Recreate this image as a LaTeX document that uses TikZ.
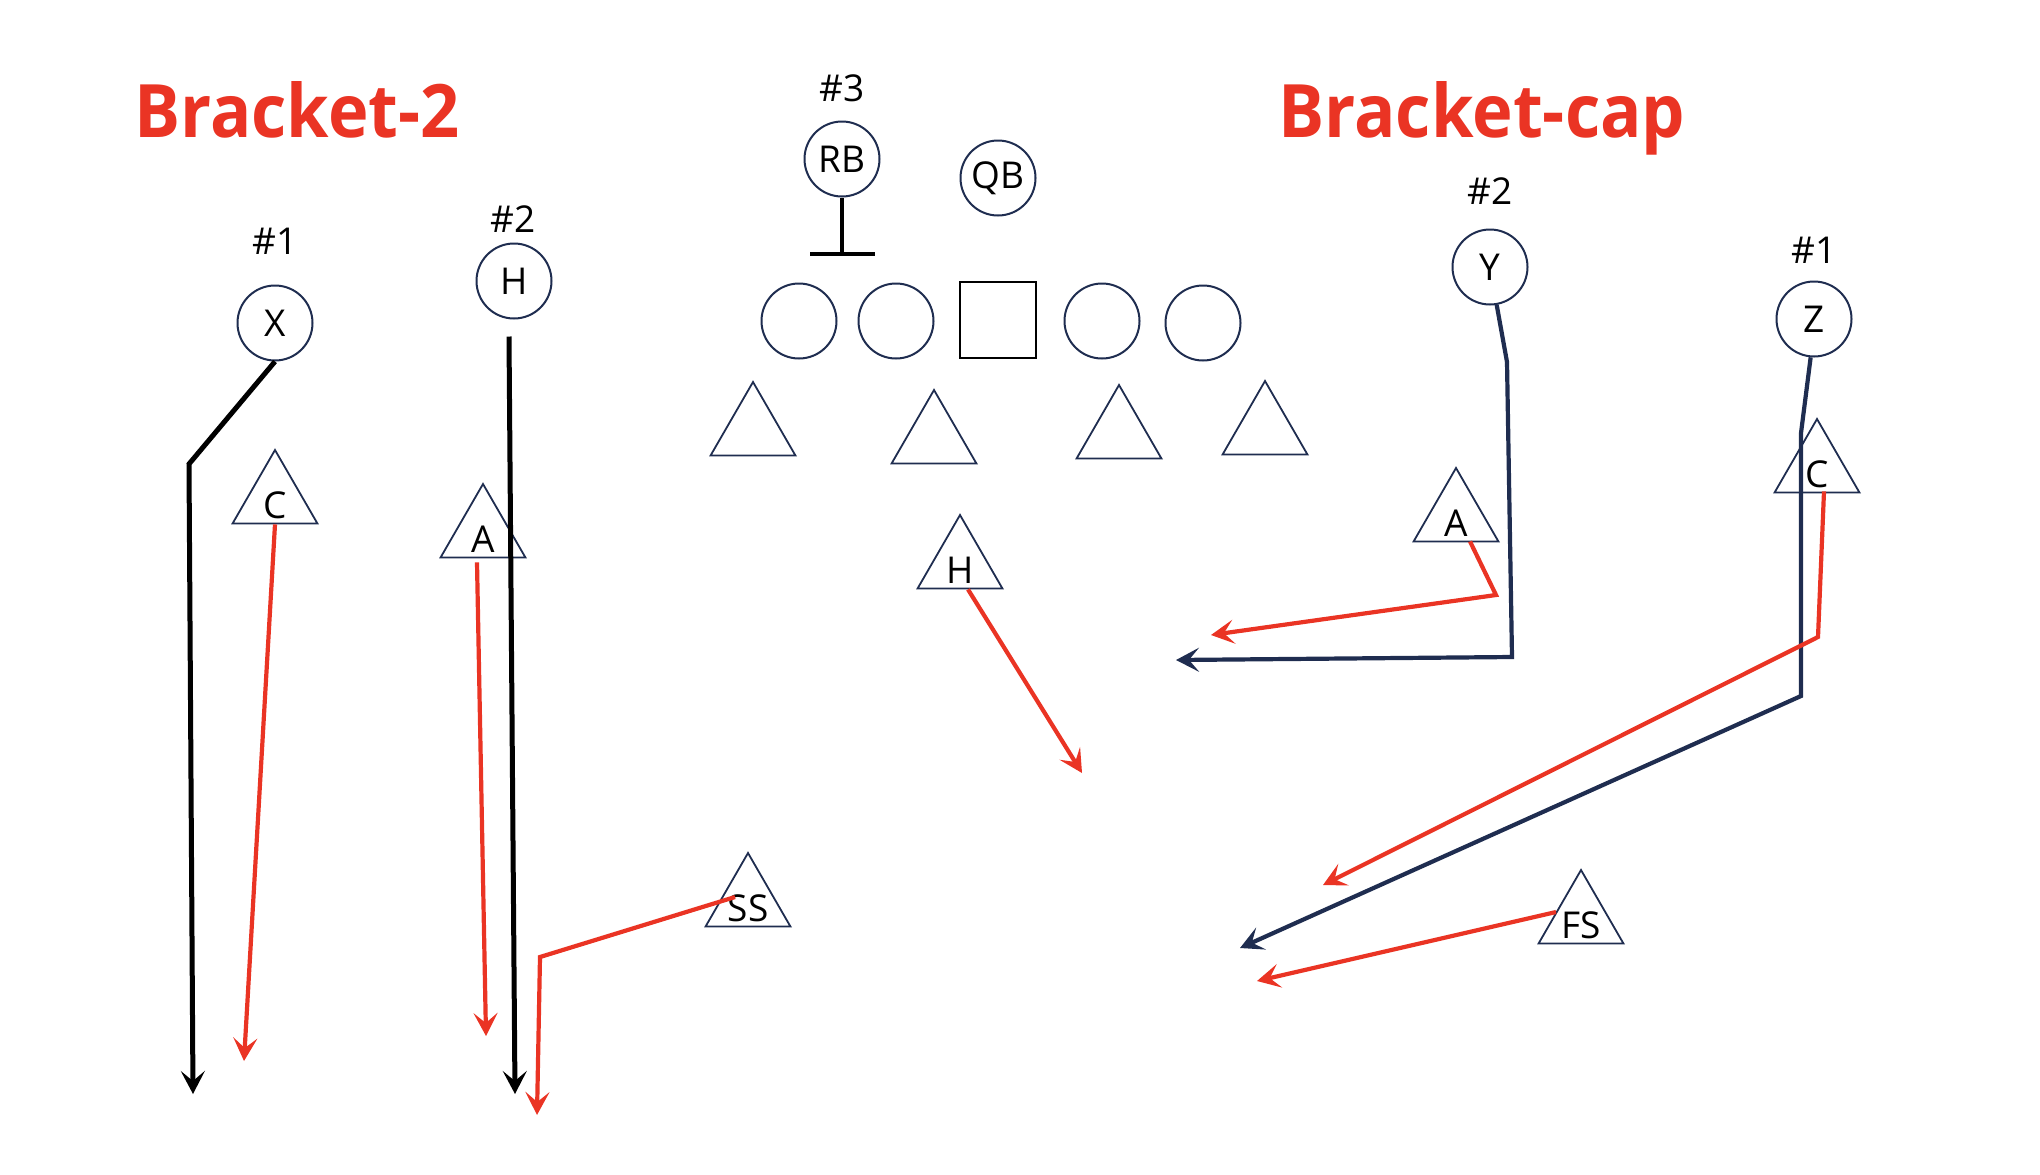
\documentclass[tikz,border=0pt]{standalone}
\usepackage{fontspec}
\setmainfont{Open Sans}
\usetikzlibrary{arrows.meta,shapes.geometric,calc}
\definecolor{navy}{HTML}{1F2D50}
\definecolor{playred}{HTML}{EA3424}
\begin{document}
\begin{tikzpicture}[x=0.5pt,y=-0.5pt,
  lbl/.style={font=\fontsize{18.5}{22}\selectfont, inner sep=0pt},
  player/.style={circle, draw=navy, line width=1pt, minimum size=37.5pt, inner sep=0pt, font=\fontsize{18.5}{22}\selectfont},
  center/.style={rectangle, draw=black, line width=1pt, minimum size=38pt, inner sep=0pt},
  defender/.style={regular polygon, regular polygon sides=3, draw=navy, line width=0.9pt, minimum size=49pt, inner sep=0pt},
  dlabel/.style={label={[lbl, yshift=-3pt]center:#1}},
  title/.style={anchor=base west, text=playred, inner sep=0pt},
  tip/.style={-{Stealth[length=11.5pt,width=12pt,inset=5pt]}},
  blackroute/.style={tip, draw=black, line width=2.5pt},
  redroute/.style={tip, draw=playred, line width=2.1pt},
  navyroute/.style={tip, draw=navy, line width=2.1pt},
]
\useasboundingbox (0,0) rectangle (2040,1174);

% titles
\node[title] (t1) at (134,137) {\resizebox{162.5pt}{28pt}{\bfseries Bracket-2}};
\node[title] (t2) at (1278,137) {\resizebox{203.5pt}{28pt}{\bfseries Bracket-cap}};

% number labels
\node[lbl] (n3) at (842,88) {\#3};
\node[lbl] (n1l) at (275,241) {\#1};
\node[lbl] (n2l) at (513,219) {\#2};
\node[lbl] (n2r) at (1490,191) {\#2};
\node[lbl] (n1r) at (1814,250) {\#1};

% offense
\node[player] (RB) at (842,159) {RB};
\node[player] (QB) at (998,178) {QB};
\node[player] (LT) at (799,321) {};
\node[player] (LG) at (896,321) {};
\node[center] (CC) at (998,320) {};
\node[player] (RG) at (1102,321) {};
\node[player] (RT) at (1203,323) {};
\node[player] (X) at (275,323) {X};
\node[player] (HL) at (514,281) {H};
\node[player] (Y) at (1490,267) {Y};
\node[player] (Z) at (1814,319) {Z};

% defense
\node[defender] (D1) at (753,431) {};
\node[defender] (D2) at (934,439) {};
\node[defender] (D3) at (1119,434) {};
\node[defender] (D4) at (1265,430) {};
\node[defender, dlabel=C] (CL) at (275,499) {};
\node[defender, dlabel=A] (AL) at (483,533) {};
\node[defender, dlabel=H] (HM) at (960,564) {};
\node[defender, dlabel=SS] (SS) at (748,902) {};
\node[defender, dlabel=A] (AR) at (1456,517) {};
\node[defender, dlabel=C] (CR) at (1817,468) {};
\node[defender, dlabel=FS] (FS) at (1581,919) {};

% RB block
\coordinate (rbend) at (842,254);
\draw[line width=2pt] (RB.south) -- (rbend);
\draw[line width=2.2pt] ($(rbend)+(-32,0)$) -- ($(rbend)+(33,0)$);

% free route ends
\coordinate (xe) at (193,1094);
\coordinate (he) at (515,1094);
\coordinate (cle) at (244,1061);
\coordinate (ale) at (486,1036);
\coordinate (sse) at (537,1115);
\coordinate (hme) at (1082,773);
\coordinate (ye) at (1176,660);
\coordinate (are) at (1211,635);
\coordinate (ze) at (1240,948);
\coordinate (cre) at (1323,885);
\coordinate (fse) at (1257,981);

% left routes
\draw[blackroute] (X.south) -- (189,464) -- (xe);
\draw[blackroute] ($(HL.south)+(-5,17)$) -- (he);
\draw[redroute] (CL.south) -- (cle);
\draw[redroute] ($(AL.south)+(-6,4)$) -- (ale);
\draw[redroute] ($(SS.center)+(-13,-5)$) -- (540,957) -- (sse);

% middle
\draw[redroute] ($(HM.south)+(8,0)$) -- (hme);

% right routes
\draw[navyroute] (Y.-80) -- (1507,362) -- (1512,657) -- (ye);
\draw[redroute] ($(AR.south)+(14,-1)$) -- (1496,595) -- (are);
\draw[navyroute] (Z.-95) -- (1801,433) -- (1801,696) -- (ze);
\draw[redroute] ($(CR.south)+(7,-2)$) -- (1818,637) -- (cre);
\draw[redroute] ($(FS.center)+(-25,-7)$) -- (fse);
\end{tikzpicture}
\end{document}
